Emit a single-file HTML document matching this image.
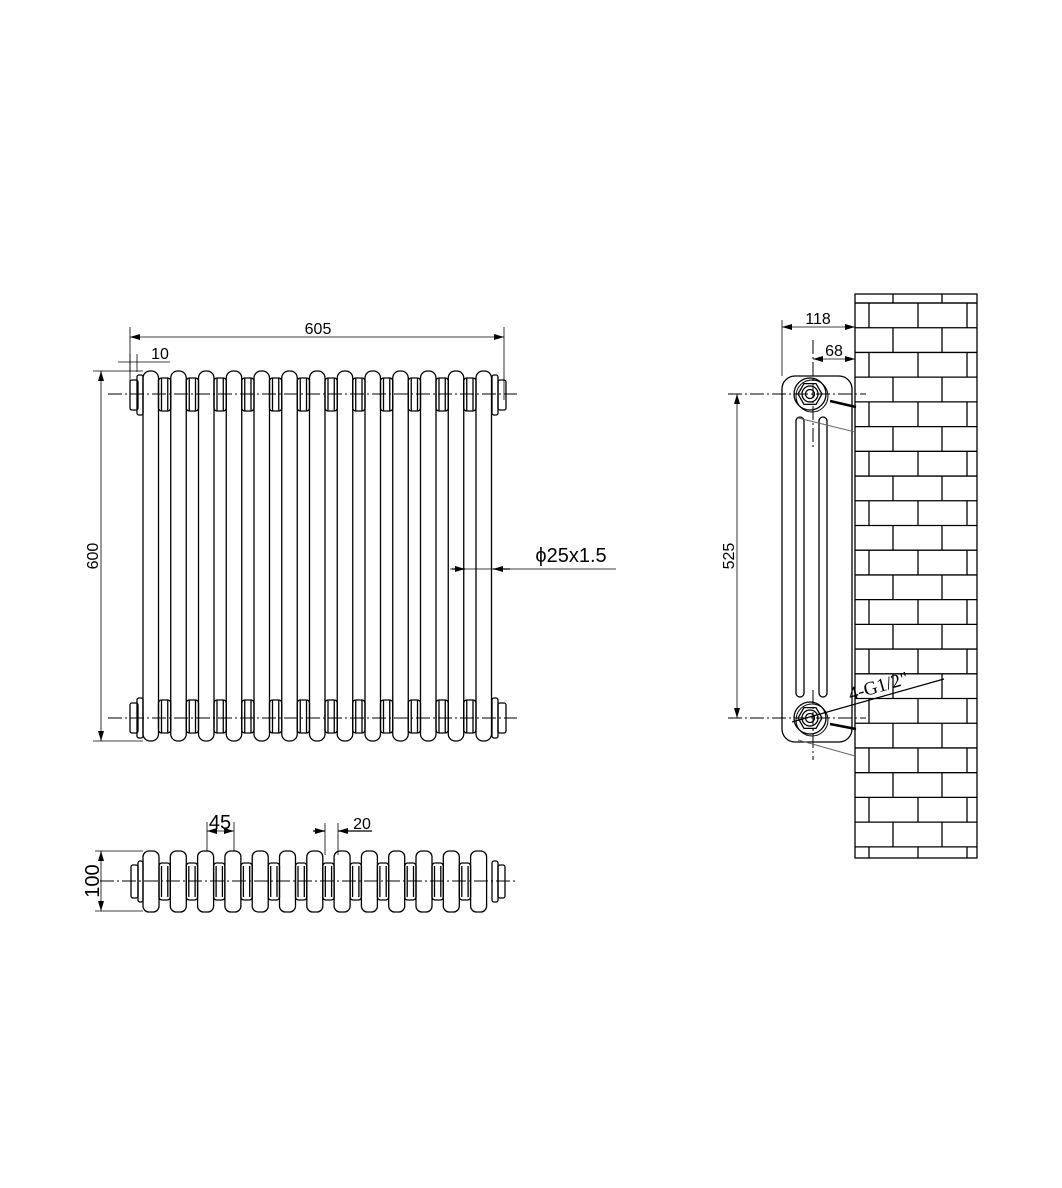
<!DOCTYPE html>
<html><head><meta charset="utf-8"><style>
html,body{margin:0;padding:0;background:#fff;width:1062px;height:1188px;overflow:hidden}
svg{display:block}
text{font-family:"Liberation Sans",sans-serif;fill:#000}
</style></head><body>
<svg id="s" width="1062" height="1188" viewBox="0 0 1062 1188" xmlns="http://www.w3.org/2000/svg">
<defs>
<marker id="a" viewBox="0 0 10 6" refX="10" refY="3" markerWidth="10" markerHeight="6" orient="auto-start-reverse" markerUnits="userSpaceOnUse"><path d="M0,0L10,3L0,6z" fill="#000"/></marker>
</defs>
<g id="g" stroke="#000" stroke-width="1.3" fill="none"></g>
<text x="318" y="334" font-size="16" text-anchor="middle">605</text>
<text x="160" y="359" font-size="16" text-anchor="middle">10</text>
<text x="98" y="556" font-size="16" text-anchor="middle" transform="rotate(-90 98 556)">600</text>
<text x="571" y="562" font-size="20" text-anchor="middle">ϕ25x1.5</text>
<text x="220" y="829" font-size="20" text-anchor="middle">45</text>
<text x="362" y="829" font-size="16" text-anchor="middle">20</text>
<text x="99" y="881" font-size="20" text-anchor="middle" transform="rotate(-90 99 881)">100</text>
<text x="818" y="324" font-size="16" text-anchor="middle">118</text>
<text x="834" y="356" font-size="16" text-anchor="middle">68</text>
<text x="734" y="556" font-size="16" text-anchor="middle" transform="rotate(-90 734 556)">525</text>
<text x="880" y="692" font-size="19" text-anchor="middle" style="font-family:'Liberation Serif',serif" transform="rotate(-16 880 692)">4-G1/2"</text>
</svg>
<script>
var g=document.getElementById('g'),o='';
function L(x1,y1,x2,y2,e){o+='<line x1="'+x1+'" y1="'+y1+'" x2="'+x2+'" y2="'+y2+'" '+(e||'')+'/>';}
function R(x,y,w,h,r,e){o+='<rect x="'+x+'" y="'+y+'" width="'+w+'" height="'+h+'" rx="'+r+'" '+(e||'')+'/>';}
var cl='stroke-width="1" stroke-dasharray="14,3,2,3"',th='stroke-width="0.8"',ar='marker-end="url(#a)" marker-start="url(#a)"';
var p=27.75,x0=143,w=15.5;
for(var i=0;i<13;i++){var x=x0+i*p;R(x,371,w,370,7);
 if(i<12){var hx=x+w;R(hx,378,p-w,33,3);R(hx,700,p-w,33,3);L(hx+3,378,hx+3,411);L(hx+p-w-3,378,hx+p-w-3,411);L(hx+3,700,hx+3,733);L(hx+p-w-3,700,hx+p-w-3,733);}}
R(130,380,8,30,2);R(498,380,8,30,2);R(130,703,8,30,2);R(498,703,8,30,2);
R(137,375,6,40,2);R(492,375,6,40,2);R(137,698,6,40,2);R(492,698,6,40,2);
L(108,394,517,394,cl);L(108,718,517,718,cl);
L(130,327,130,400,th);L(504,327,504,400,th);L(130,337,504,337,th+' '+ar);
L(130,354,130,372,th);L(137,354,137,372,th);L(118,362,170,362,th);
L(93,371,143,371,th);L(93,741,143,741,th);L(101,371,101,741,th+' '+ar);
L(450,569,616,569,th);L(452,569,465,569,'marker-end="url(#a)"');L(510,569,493,569,'marker-end="url(#a)"');
var bx=143,bp=27.3;
for(var i=0;i<13;i++){var x=bx+i*bp;R(x,851,16,61,6);
 if(i<12){var hx=x+16;R(hx,863,bp-16,37,3);L(hx+2.5,866,hx+2.5,897);L(hx+bp-18.5,866,hx+bp-18.5,897);}}
R(131,865,7,33,2);R(138,861,5,41,2);R(492,861,6,41,2);R(498,865,7,33,2);
L(100,881,517,881,cl);
L(95,851,143,851,th);L(95,911,143,911,th);L(101,851,101,911,th+' '+ar);
L(207,822,207,851,th);L(234,822,234,851,th);L(207,831,234,831,th+' '+ar);
L(325,823,325,855,th);L(338,823,338,855,th);L(313,831,325,831,'marker-end="url(#a)"');L(372,831,338,831,'marker-end="url(#a)"');
R(855,294,122,564,0);L(855,303,977,303);
var ys=[];for(var y=303;y<=850;y+=24.72)ys.push(y);
ys.forEach(function(y){L(855,y,977,y);});
var rows=[294].concat(ys);rows.push(858);
for(var k=0;k<rows.length-1;k++){var a=rows[k],b=rows[k+1];if(b-a<1)continue;
 var xs=(k%2==0)?[893,942]:[869,918,967];xs.forEach(function(x){L(x,a,x,b);});}
R(782,376,70,366,13);
R(796,417,8,280,4);R(819,417,8,280,4);
L(813,340,813,450,cl);L(813,690,813,760,cl);
L(728,394,866,394,cl);L(728,718,866,718,cl);
[394,718].forEach(function(cy){
 o+='<circle cx="810" cy="'+cy+'" r="16"/>';
 o+='<circle cx="812" cy="'+(cy+2)+'" r="16" stroke-width="1"/>';
 var h='';for(var j=0;j<6;j++){var an=Math.PI/3*j;h+=(810+12*Math.cos(an)).toFixed(1)+','+(cy+12*Math.sin(an)).toFixed(1)+' ';}
 o+='<polygon points="'+h+'"/>';
 o+='<circle cx="810" cy="'+cy+'" r="8"/><circle cx="810" cy="'+cy+'" r="4.5"/>';
});
L(830,401,856,407,'stroke-width="2.5"');L(798,418,855,432,'stroke="#666" stroke-width="1"');
L(830,724,856,729,'stroke-width="2.5"');L(798,740,855,756,'stroke="#666" stroke-width="1"');
L(792,722,944,679,'stroke-width="1.2"');
L(782,320,782,376,th);L(782,327,855,327,th+' '+ar);L(813,359,855,359,th+' '+ar);
L(737,394,737,718,th+' '+ar);
g.innerHTML=o;
</script>
</body></html>
